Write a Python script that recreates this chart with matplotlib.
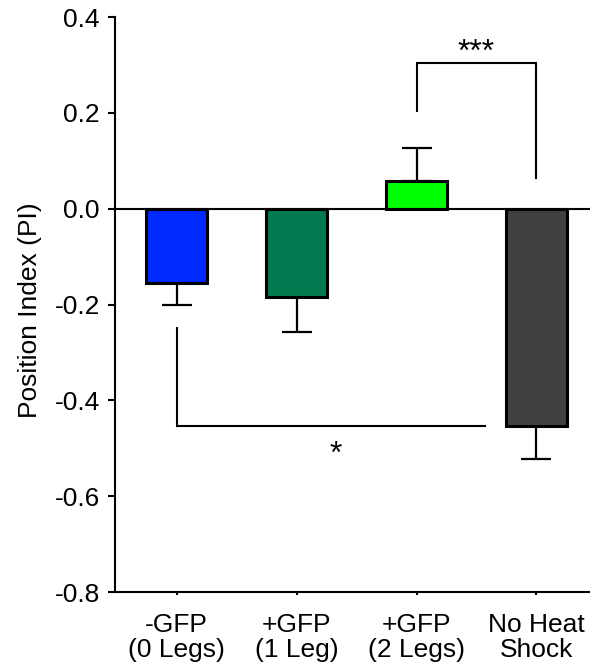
#!/usr/bin/env python3
"""Position index per group, bars with one-sided SEM and significance brackets."""

import matplotlib
matplotlib.use("Agg")
import matplotlib.pyplot as plt

GROUPS = ["-GFP\n(0 Legs)", "+GFP\n(1 Leg)", "+GFP\n(2 Legs)", "No Heat\nShock"]
MEANS = [-0.155, -0.184, 0.058, -0.453]
SEMS = [0.047, 0.073, 0.068, 0.070]
COLORS = ["#0029ff", "#007a4e", "#00ff00", "#404040"]
Y_TICKS = [-0.8, -0.6, -0.4, -0.2, 0.0, 0.2, 0.4]

# significance brackets: (x_left, x_right, y_bar, y_left_end, y_right_end, label, label_x, label_y)
BRACKETS = [
    (2.0, 3.0, 0.303, 0.203, 0.063, "***", 2.5, 0.325),
    (0.0, 2.57, -0.453, -0.248, -0.453, "*", 1.33, -0.513),
]


def main() -> int:
    plt.rcParams.update({
        "font.family": ["Liberation Sans", "DejaVu Sans"],
        "font.size": 19,
    })

    fig = plt.figure(figsize=(5.9, 6.72), dpi=100)
    ax = fig.add_axes([0.195, 0.119, 0.805, 0.8557])

    x = list(range(len(GROUPS)))
    lower = [s if m < 0 else 0.0 for m, s in zip(MEANS, SEMS)]
    upper = [s if m >= 0 else 0.0 for m, s in zip(MEANS, SEMS)]

    ax.errorbar(x, MEANS, yerr=[lower, upper], fmt="none", ecolor="black",
                elinewidth=1.6, capsize=10.8, capthick=1.6, zorder=1)
    ax.bar(x, MEANS, width=0.51, color=COLORS, edgecolor="black",
           linewidth=2.2, zorder=2)

    ax.axhline(0.0, color="black", linewidth=1.5, zorder=3)

    for xl, xr, yb, yl, yr, label, lx, ly in BRACKETS:
        ax.plot([xl, xl, xr, xr], [yl, yb, yb, yr], color="black",
                linewidth=1.5, solid_joinstyle="miter", zorder=3)
        ax.text(lx, ly, label, ha="center", va="center", fontsize=23)

    ax.set_xlim(-0.5125, 3.446)
    ax.set_ylim(-0.8, 0.4)
    ax.set_yticks(Y_TICKS)
    ax.set_yticklabels([f"{v:.1f}" for v in Y_TICKS])
    ax.set_xticks(x)
    ax.set_xticklabels(GROUPS, linespacing=1.05)

    for side in ("top", "right"):
        ax.spines[side].set_visible(False)
    ax.spines["left"].set_linewidth(1.5)
    ax.spines["bottom"].set_linewidth(1.5)
    ax.tick_params(axis="y", direction="out", length=5.0, width=1.5, pad=6)
    ax.tick_params(axis="x", direction="out", length=2.5, width=1.5, pad=12.5)

    ax.set_ylabel("Position Index (PI)")
    ax.yaxis.set_label_coords(-0.153, 0.49)

    fig.savefig("out.png", dpi=100)
    plt.close(fig)
    return 0


if __name__ == "__main__":
    raise SystemExit(main())
